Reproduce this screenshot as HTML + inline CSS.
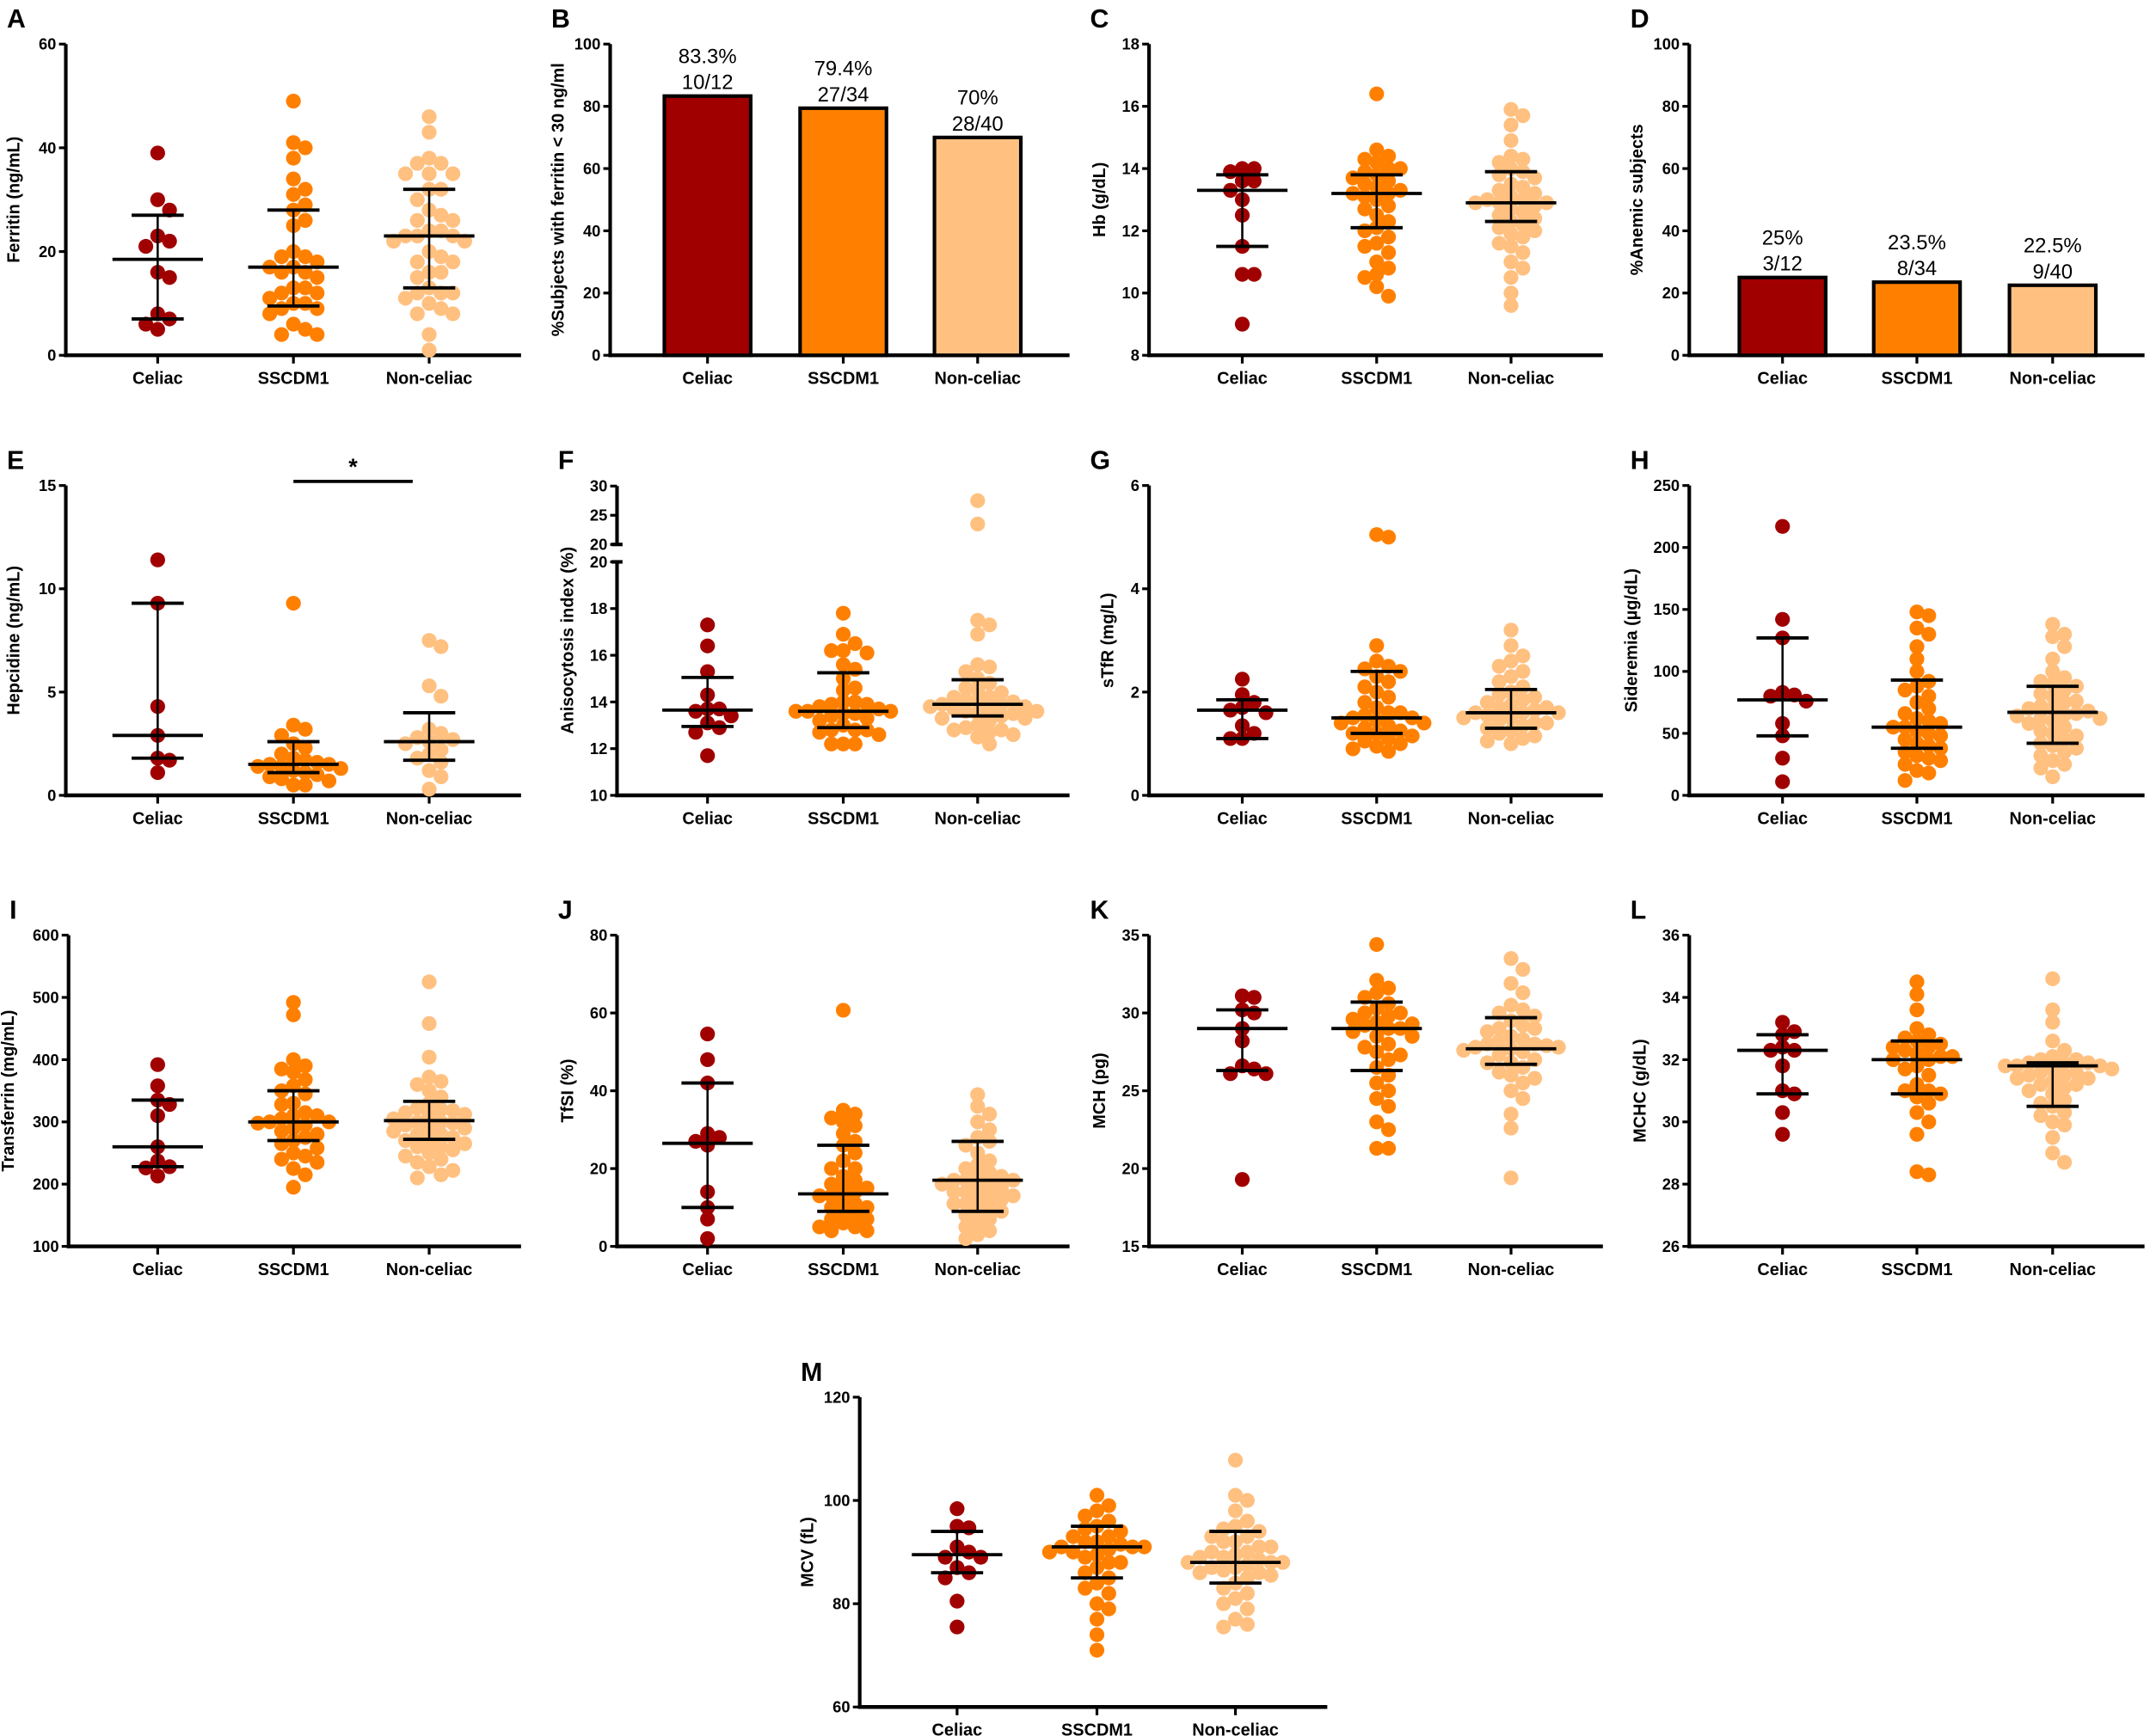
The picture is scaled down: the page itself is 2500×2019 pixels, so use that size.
<!DOCTYPE html>
<html><head><meta charset="utf-8">
<style>
html,body{margin:0;padding:0;background:#fff;}
svg{display:block;}
text{font-family:"Liberation Sans",sans-serif;}
</style></head>
<body>
<svg id="fig" width="2500" height="2019" viewBox="0 0 1568 1266" xmlns="http://www.w3.org/2000/svg"></svg>
<script>
// ---- data ----
const categories = ["Celiac","SSCDM1","Non-celiac"];
const ferritinCeliac = [39,30,28,23,22,21,16,15,8,7,6,5];
const ferritinSSCDM1 = [49,41,40,38,34,32,31,29,28,26,25,20,19,19,18,17,17,16,16,15,13,13,12,12,11,10,10,9,9,8,6,5,4,4];
const ferritinNon = [46,43,38,37,37,35,35,35,32,32,30,28,27,26,26,24,24,23,23,23,22,22,20,19,18,18,16,16,15,13,12,12,11,10,9,8,8,4,1,12];
const ferritinStats = [[18.5,7,27],[17,9.5,28],[23,13,32]];
const lowFerritinPct = [83.3,79.4,70];
const lowFerritinLabels = [["83.3%","10/12"],["79.4%","27/34"],["70%","28/40"]];
const hbCeliac = [14.0,14.0,13.9,13.6,13.6,13.3,13.0,12.5,11.5,10.6,10.6,9.0];
const hbSSCDM1 = [16.4,14.6,14.4,14.3,14.2,14.0,14.0,13.9,13.8,13.7,13.6,13.5,13.4,13.3,13.2,13.2,13.1,13.0,12.8,12.7,12.5,12.3,12.1,12.0,11.8,11.6,11.5,11.3,11.0,10.8,10.6,10.5,10.2,9.9];
const hbNon = [15.9,15.7,15.4,14.9,14.4,14.3,14.2,14.0,13.9,13.8,13.7,13.5,13.4,13.3,13.2,13.1,13.0,12.9,12.9,12.8,12.7,12.6,12.5,12.4,12.3,12.2,12.1,12.0,11.9,11.8,11.6,11.5,11.3,11.0,10.8,10.5,10.0,9.6,12.9,13.0];
const hbStats = [[13.3,11.5,13.8],[13.2,12.1,13.8],[12.9,12.3,13.9]];
const anemicPct = [25,23.5,22.5];
const anemicLabels = [["25%","3/12"],["23.5%","8/34"],["22.5%","9/40"]];
const hepCeliac = [11.4,9.3,4.3,2.9,1.8,1.7,1.1];
const hepSSCDM1 = [9.3,3.4,3.2,2.9,2.5,2.3,2.0,1.8,1.7,1.6,1.5,1.4,1.4,1.3,1.2,1.1,1.0,0.9,0.8,0.7,0.5,0.5,1.5];
const hepNon = [7.5,7.2,5.3,4.8,3.2,3.0,2.8,2.7,2.6,2.5,2.2,2.0,1.8,1.6,1.2,0.9,0.3];
const hepStats = [[2.9,1.8,9.3],[1.5,1.1,2.6],[2.6,1.7,4.0]];
const anisoCeliac = [17.3,16.4,15.3,14.3,13.7,13.7,13.6,13.4,13.1,12.9,12.7,11.7];
const anisoSSCDM1 = [17.8,16.9,16.5,16.2,16.2,16.1,15.6,15.4,15.0,14.6,14.5,14.0,14.0,13.9,13.9,13.8,13.7,13.6,13.6,13.6,13.5,13.5,13.4,13.3,13.2,13.0,12.8,12.8,12.8,12.7,12.6,12.2,12.2,12.2];
const anisoNon = [27.5,23.5,17.5,17.3,16.9,15.6,15.5,15.3,15.0,14.8,14.6,14.5,14.4,14.2,14.2,14.0,14.0,13.9,13.9,13.8,13.8,13.7,13.7,13.6,13.6,13.5,13.5,13.4,13.3,13.3,13.2,13.0,12.9,12.8,12.8,12.7,12.6,12.5,12.2,14.1];
const anisoStats = [[13.65,12.95,15.05],[13.6,12.9,15.25],[13.9,13.4,14.95]];
const stfrCeliac = [2.25,1.95,1.8,1.7,1.65,1.6,1.35,1.2,1.1,1.1];
const stfrSSCDM1 = [5.05,5.0,2.9,2.6,2.5,2.45,2.4,2.3,2.2,2.1,2.0,1.9,1.8,1.7,1.6,1.55,1.5,1.45,1.4,1.35,1.3,1.25,1.2,1.2,1.15,1.1,1.05,1.0,0.95,0.9,0.85,1.5,1.6,1.4];
const stfrNon = [3.2,2.9,2.7,2.6,2.5,2.4,2.3,2.2,2.1,2.0,1.95,1.9,1.85,1.8,1.75,1.7,1.65,1.6,1.6,1.55,1.5,1.5,1.45,1.4,1.35,1.3,1.25,1.2,1.15,1.1,1.05,1.0,1.6,1.7,1.4];
const stfrStats = [[1.65,1.1,1.85],[1.5,1.2,2.4],[1.6,1.3,2.05]];
const sidCeliac = [217,142,127,83,81,80,76,58,48,30,11];
const sidSSCDM1 = [148,145,135,130,120,110,100,92,88,85,80,75,70,66,62,58,55,52,50,48,45,42,40,38,35,32,30,28,25,20,18,12,60,55];
const sidNon = [138,130,128,120,110,100,95,92,90,88,85,82,80,76,72,70,68,66,64,62,60,58,55,52,50,48,45,42,40,38,35,32,28,25,22,15,70,65,62,75];
const sidStats = [[77,48,127],[55,38,93],[67,42,88]];
const trfCeliac = [392,358,335,328,310,260,237,228,226,213];
const trfSSCDM1 = [492,472,400,390,385,380,368,358,350,345,330,328,315,310,305,300,298,295,290,285,280,275,270,265,258,250,245,240,235,225,215,195,300,310];
const trfNon = [525,458,404,372,365,360,350,340,330,322,318,315,312,305,300,298,295,290,285,280,275,270,265,260,255,250,245,240,235,228,222,215,210,300,310,320,290,280,270,260];
const trfStats = [[260,228,335],[300,270,350],[302,272,333]];
const tfsiCeliac = [54.6,48,42,29,28,27,26,14,10,7,2];
const tfsiSSCDM1 = [60.7,35,34,33,32,31,29,27,26,24,22,20,18,17,16,15,14,13,13,12,11,10,10,9,8,7,7,6,5,5,4,4,20,15];
const tfsiNon = [39,36,34,32,30,28,27,26,24,22,21,20,19,18,17,17,16,15,15,14,13,12,12,11,10,9,9,8,7,6,5,4,3,2,17,18,16,14,13,11];
const tfsiStats = [[26.5,10,42],[13.5,9,26],[17,9,27]];
const mchCeliac = [31.1,31.0,30.2,30.0,29.0,28.2,26.6,26.4,26.1,26.1,19.3];
const mchSSCDM1 = [34.4,32.1,31.6,31.3,31.0,30.6,30.3,30.0,29.8,29.6,29.4,29.2,29.0,29.0,28.8,28.5,28.0,27.8,27.5,27.0,26.5,26.0,25.5,25.0,24.5,24.0,23.0,22.5,21.3,21.3,29.3,30.0,28.5,27.3];
const mchNon = [33.5,32.8,31.9,31.3,30.5,30.0,29.8,29.5,29.2,29.0,28.8,28.5,28.3,28.0,27.9,27.8,27.7,27.5,27.3,27.0,26.8,26.5,26.2,26.0,25.8,25.5,25.0,24.5,23.5,22.6,19.4,28.0,27.8,28.2,27.6,29.0,30.2,26.8];
const mchStats = [[29,26.3,30.2],[29,26.3,30.7],[27.7,26.7,29.7]];
const mchcCeliac = [33.2,32.9,32.8,32.4,32.3,32.3,31.8,31.0,30.9,30.3,29.6];
const mchcSSCDM1 = [34.5,34.1,33.6,33.0,32.8,32.7,32.6,32.5,32.4,32.3,32.2,32.1,32.0,32.0,31.8,31.5,31.2,31.0,30.9,30.8,30.6,30.3,30.0,29.6,28.4,28.3,32.4,32.1,31.7,31.0];
const mchcNon = [34.6,33.6,33.2,32.6,32.3,32.1,32.0,31.9,31.9,31.8,31.8,31.7,31.7,31.6,31.5,31.5,31.4,31.3,31.2,31.1,31.0,30.9,30.7,30.5,30.3,30.0,29.9,29.5,29.0,28.7,31.8,31.9,31.6,31.4,31.2,32.0,30.6,30.2];
const mchcStats = [[32.3,30.9,32.8],[32,30.9,32.6],[31.8,30.5,31.9]];
const mcvCeliac = [98.4,95,94.7,91,90,89,89,87,86,85,80.5,75.5];
const mcvSSCDM1 = [101,99,98,97,96,95,94.5,94,93,92,91.5,91,91,90.5,90,89.5,89,88,87,86,85,84,83,82,80,79,77,74,71,91,92,93,90,88];
const mcvNon = [107.8,101,100,98,96,95,94.5,94,93,92,91,90,89.5,89,88.5,88,88,87.5,87,86.5,86,85.5,85,84,83,82,81,80,79,77,76,75.5,88,89,90,87,86,91,92,93];
const mcvStats = [[89.5,86,94],[91,85,95],[88,84,94]];
const ticksA=[0,20,40,60], ticksB=[0,20,40,60,80,100], ticksC=[8,10,12,14,16,18], ticksE=[0,5,10,15];
const ticksFLow=[10,12,14,16,18,20], ticksFHigh=[20,25,30], ticksG=[0,2,4,6], ticksH=[0,50,100,150,200,250];
const ticksI=[100,200,300,400,500,600], ticksJ=[0,20,40,60,80], ticksK=[15,20,25,30,35], ticksL=[26,28,30,32,34,36], ticksM=[60,80,100,120];

const COLORS=["#a00000","#ff8000","#ffc080"];
const NS="http://www.w3.org/2000/svg";
const svg=document.getElementById('fig');
function el(tag,attrs,parent,txt){const e=document.createElementNS(NS,tag);for(const k in attrs)e.setAttribute(k,attrs[k]);if(txt!==undefined)e.textContent=txt;(parent||svg).appendChild(e);return e;}

const COLS={1:{ax:48,cats:[115,214,313]},2:{ax:450,cats:[516,615,713]},3:{ax:838,cats:[906,1004,1102]},4:{ax:1232,cats:[1300,1398,1497]},m:{ax:627,cats:[698,800,901]}};
const ROWS={1:[32,259],2:[354,580],3:[682,909],m:[1019,1245]};

function panel(o){
  const g=el('g',{},svg);
  
  
  const col=COLS[o.col],[top,bot]=ROWS[o.row];
  const ax=o.ax||col.ax, cats=col.cats;
  const y=o.scale||(v=>bot-(v-o.min)/(o.max-o.min)*(bot-top));
  const lt=el('text',{x:ax-43,y:top-12,'font-size':19,'font-weight':'bold'},g,o.letter);
  
  
  const yaxis=el('g',{},g);
  
  
  if(o.broken){
    el('line',{x1:ax,y1:y(30),x2:ax,y2:y(20.001),stroke:'#000','stroke-width':2.6},yaxis);
    el('line',{x1:ax,y1:y(20),x2:ax,y2:bot+1.3,stroke:'#000','stroke-width':2.6},yaxis);
    el('line',{x1:ax-4,y1:y(20.001),x2:ax+4,y2:y(20.001),stroke:'#000','stroke-width':2.6},yaxis);
    el('line',{x1:ax-4,y1:y(20),x2:ax+4,y2:y(20),stroke:'#000','stroke-width':2.6},yaxis);
  } else el('line',{x1:ax,y1:top,x2:ax,y2:bot+1.3,stroke:'#000','stroke-width':2.6},yaxis);
  const drawTick=(t,v)=>{const yy=y(v);el('line',{x1:ax-5,y1:yy,x2:ax,y2:yy,stroke:'#000','stroke-width':2},yaxis);
    const tx=el('text',{x:ax-7,y:yy+4,'font-size':11.5,'font-weight':'bold','text-anchor':'end'},yaxis,t);
    
    };
  if(o.broken){ticksFLow.forEach(v=>drawTick(v,v));ticksFHigh.forEach(v=>drawTick(v,v===20?20.001:v));}
  else o.ticks.forEach(v=>drawTick(v,v));
  const yt=el('text',{x:0,y:0,'font-size':12.5,'font-weight':'bold','text-anchor':'middle',transform:`translate(${ax-o.titleOff},${(top+bot)/2}) rotate(-90)`},g,o.title);
  
  
  const xend=cats[2]+67;
  const xa=el('line',{x1:ax-1.3,y1:bot,x2:xend,y2:bot,stroke:'#000','stroke-width':2.8},g);
  
  
  categories.forEach((c,i)=>{el('line',{x1:cats[i],y1:bot,x2:cats[i],y2:bot+6,stroke:'#000','stroke-width':2},g);
    const t=el('text',{x:cats[i],y:bot+21,'font-size':12.5,'font-weight':'bold','text-anchor':'middle'},g,c);
    
    });
  if(o.bars){
    o.bars.forEach((v,i)=>{const bw=63;
      const r=el('rect',{x:cats[i]-bw/2,y:y(v),width:bw,height:bot-y(v),fill:COLORS[i],stroke:'#000','stroke-width':2.6},g);
      
      
      o.labels[i].forEach((s,j)=>{const t=el('text',{x:cats[i],y:y(v)-24+j*19,'font-size':15,'text-anchor':'middle'},g,s);
        
        });
    });
    return;
  }
  const R=5.4;
  o.series.forEach((arr,i)=>{
    const sg=el('g',{},g);
    
    
    const placed=[];
    const sorted=[...arr].sort((a,b)=>b-a);
    sorted.forEach(v=>{const yy=y(v);let off=0;
      for(let k=0;k<30;k++){const cand=k===0?0:(k%2?1:-1)*Math.ceil(k/2)*R*1.6;
        if(placed.every(p=>Math.hypot(p[0]-cand,p[1]-yy)>=R*1.55)){off=cand;break;}}
      placed.push([off,yy]);
      const c=el('circle',{cx:cats[i]+off,cy:yy,r:R,fill:COLORS[i]},sg);
      
      });
    const [med,q1,q3]=o.stats[i];
    const eg=el('g',{stroke:'#000','stroke-width':2.4},sg);
    
    
    el('line',{x1:cats[i],y1:y(q3),x2:cats[i],y2:y(q1),'stroke-width':1.6},eg);
    el('line',{x1:cats[i]-33,y1:y(med),x2:cats[i]+33,y2:y(med)},eg);
    el('line',{x1:cats[i]-19,y1:y(q1),x2:cats[i]+19,y2:y(q1)},eg);
    el('line',{x1:cats[i]-19,y1:y(q3),x2:cats[i]+19,y2:y(q3)},eg);
  });
  if(o.sig){const s=el('g',{},g);
    
    
    el('line',{x1:cats[1],y1:351,x2:cats[2]-12,y2:351,stroke:'#000','stroke-width':2.4},s);
    el('text',{x:(cats[1]+cats[2]-12)/2,y:346,'font-size':17,'font-weight':'bold','text-anchor':'middle'},s,'*');}
}
panel({letter:'A',col:1,row:1,min:0,max:60,ticks:ticksA,title:'Ferritin (ng/mL)',titleOff:34,series:[ferritinCeliac,ferritinSSCDM1,ferritinNon],stats:ferritinStats});
panel({letter:'B',col:2,ax:445,row:1,min:0,max:100,ticks:ticksB,title:'%Subjects with ferritin < 30 ng/ml',titleOff:34,bars:lowFerritinPct,labels:lowFerritinLabels});
panel({letter:'C',col:3,row:1,min:8,max:18,ticks:ticksC,title:'Hb (g/dL)',titleOff:32,series:[hbCeliac,hbSSCDM1,hbNon],stats:hbStats});
panel({letter:'D',col:4,row:1,min:0,max:100,ticks:ticksB,title:'%Anemic subjects',titleOff:34,bars:anemicPct,labels:anemicLabels});
panel({letter:'E',col:1,row:2,min:0,max:15,ticks:ticksE,title:'Hepcidine (ng/mL)',titleOff:34,series:[hepCeliac,hepSSCDM1,hepNon],stats:hepStats,sig:true});
panel({letter:'F',col:2,row:2,broken:true,title:'Anisocytosis index (%)',titleOff:32,
  scale:v=>v<=20?580-(v-10)/10*(580-409.7):397-(v-20)/10*(397-354.4),series:[anisoCeliac,anisoSSCDM1,anisoNon],stats:anisoStats});
panel({letter:'G',col:3,row:2,min:0,max:6,ticks:ticksG,title:'sTfR (mg/L)',titleOff:26,series:[stfrCeliac,stfrSSCDM1,stfrNon],stats:stfrStats});
panel({letter:'H',col:4,row:2,min:0,max:250,ticks:ticksH,title:'Sideremia (µg/dL)',titleOff:38,series:[sidCeliac,sidSSCDM1,sidNon],stats:sidStats});
panel({letter:'I',col:1,ax:50,row:3,min:100,max:600,ticks:ticksI,title:'Transferrin (mg/mL)',titleOff:40,series:[trfCeliac,trfSSCDM1,trfNon],stats:trfStats});
panel({letter:'J',col:2,row:3,min:0,max:80,ticks:ticksJ,title:'TfSI (%)',titleOff:32,series:[tfsiCeliac,tfsiSSCDM1,tfsiNon],stats:tfsiStats});
panel({letter:'K',col:3,row:3,min:15,max:35,ticks:ticksK,title:'MCH (pg)',titleOff:32,series:[mchCeliac,mchSSCDM1,mchNon],stats:mchStats});
panel({letter:'L',col:4,row:3,min:26,max:36,ticks:ticksL,title:'MCHC (g/dL)',titleOff:32,series:[mchcCeliac,mchcSSCDM1,mchcNon],stats:mchcStats});
panel({letter:'M',col:'m',row:'m',min:60,max:120,ticks:ticksM,title:'MCV (fL)',titleOff:34,series:[mcvCeliac,mcvSSCDM1,mcvNon],stats:mcvStats});
</script>
</body></html>
